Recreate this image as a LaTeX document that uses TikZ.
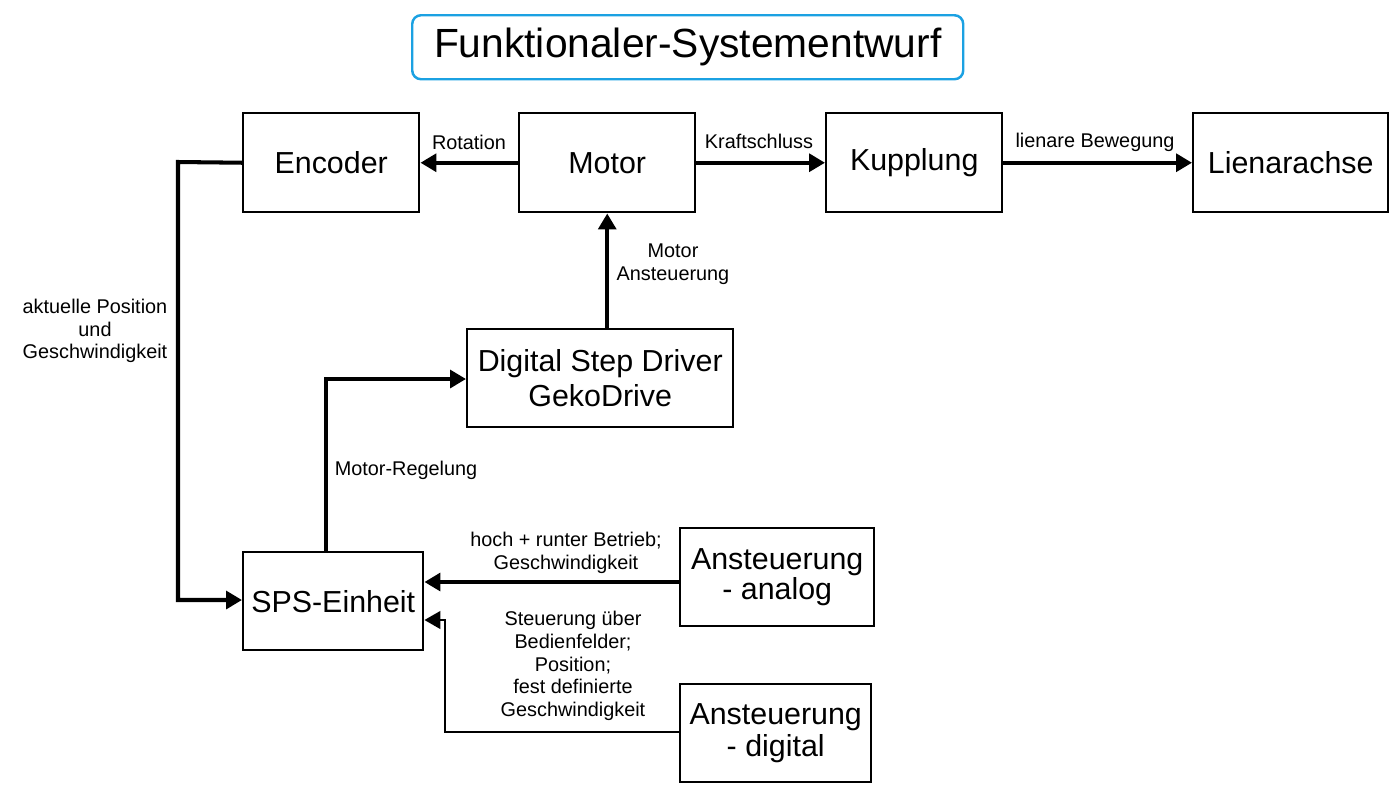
\documentclass[tikz,border=0pt]{standalone}
\usepackage{fontspec}
\setmainfont{Liberation Sans}
\usetikzlibrary{arrows.meta}
\definecolor{titleblue}{HTML}{1BA1E2}
\begin{document}
\begin{tikzpicture}[x=0.02cm,y=-0.02cm,
  blk/.style={draw,line width=1.4pt,inner sep=0pt,anchor=north west,align=center,
    font=\fontsize{17.3}{20}\selectfont},
  lbl/.style={align=center,font=\fontsize{11.3}{13}\selectfont,inner sep=0pt},
  thick arrow/.style={line width=2.3pt,-{Triangle[length=9pt,width=10pt]}},
  thin arrow/.style={line width=1.2pt,-{Triangle[length=9pt,width=10pt]}}]
\useasboundingbox (0,0) rectangle (1400,806);
\node[draw=titleblue,line width=1.4pt,rounded corners=5pt,minimum width=551*0.02cm,minimum height=64*0.02cm,anchor=north west,inner sep=0pt,font=\fontsize{23.2}{26}\selectfont] (title) at (411,14) {Funktionaler-Systementwurf};
\node[blk,minimum width=176*0.02cm,minimum height=99*0.02cm] (enc) at (242,112) {Encoder};
\node[blk,minimum width=176*0.02cm,minimum height=99*0.02cm] (mot) at (518,112) {Motor};
\node[blk,minimum width=176*0.02cm,minimum height=99*0.02cm] (kup) at (825,112) {Kupplung};
\node[blk,minimum width=195*0.02cm,minimum height=99*0.02cm] (lin) at (1192,112) {Lienarachse};
\node[blk,minimum width=266*0.02cm,minimum height=98*0.02cm] (drv) at (466,328) {Digital Step Driver\\GekoDrive};
\node[blk,minimum width=180*0.02cm,minimum height=98*0.02cm] (sps) at (242,551) {SPS-Einheit};
\node[blk,minimum width=194*0.02cm,minimum height=98*0.02cm,font=\fontsize{17.3}{17.5}\selectfont] (ana) at (679,527) {Ansteuerung\\- analog};
\node[blk,minimum width=191*0.02cm,minimum height=98*0.02cm,font=\fontsize{17.3}{18.3}\selectfont] (dig) at (679,683) {Ansteuerung\\- digital};

\draw[thick arrow] (mot.west) -- (enc.east);
\draw[thick arrow] (mot.east) -- (kup.west);
\draw[thick arrow] (kup.east) -- (lin.west);
\draw[thick arrow] (drv.north -| mot.south) -- (mot.south);
\coordinate (e1) at (178,162);
\coordinate (e2) at (178,600);
\draw[thick arrow] (enc.west) -- (e1) -- (e2) -- (sps.west |- e2);
\coordinate (s1) at (326,379);
\draw[thick arrow] (sps.north -| s1) -- (s1) -- (drv.west |- s1);
\coordinate (a1) at (679,582);
\draw[thick arrow] (a1) -- (sps.east |- a1);
\coordinate (d1) at (679,732);
\coordinate (d2) at (445,732);
\coordinate (d3) at (445,620);
\draw[thin arrow] (d1) -- (d2) -- (d3) -- (sps.east |- d3);

\node[lbl] (lrot) at (469,142) {Rotation};
\node[lbl] (lkraft) at (759,141) {Kraftschluss};
\node[lbl] (llin) at (1095,142) {lienare Bewegung};
\node[lbl] (lmot) at (673,264) {Motor\\Ansteuerung};
\node[lbl] (lpos) at (95,331) {aktuelle Position\\und\\Geschwindigkeit};
\node[lbl] (lreg) at (406,470) {Motor-Regelung};
\node[lbl] (lana) at (566,553) {hoch + runter Betrieb;\\Geschwindigkeit};
\node[lbl] (ldig) at (573,666) {Steuerung über\\Bedienfelder;\\Position;\\fest definierte\\Geschwindigkeit};
\end{tikzpicture}
\end{document}
